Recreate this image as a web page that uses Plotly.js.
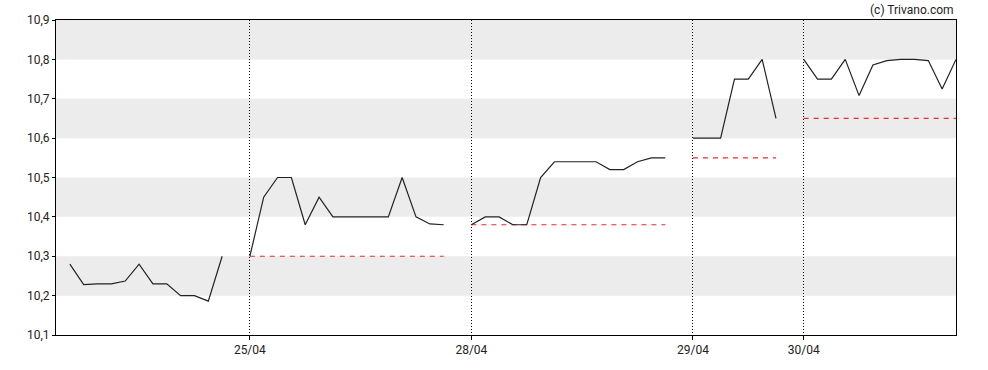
<!DOCTYPE html>
<html>
<head>
<meta charset="utf-8">
<script src="https://cdn.plot.ly/plotly-3.0.1.min.js"></script>
<style>html,body{margin:0;padding:0;background:#fff;}#chart{width:988px;height:370px;}</style>
</head>
<body>
<div id="chart"></div>
<script>
// Day labels (first day has no label on the axis)
const dayLabels = ['', '25/04', '28/04', '29/04', '30/04'];
// Intraday prices per day
const day0 = [10.28, 10.228, 10.23, 10.23, 10.237, 10.28, 10.23, 10.23, 10.20, 10.20, 10.186, 10.30];
const day1 = [10.30, 10.45, 10.50, 10.50, 10.38, 10.45, 10.40, 10.40, 10.40, 10.40, 10.40, 10.50, 10.40, 10.382, 10.38];
const day2 = [10.38, 10.40, 10.40, 10.38, 10.38, 10.50, 10.54, 10.54, 10.54, 10.54, 10.52, 10.52, 10.54, 10.55, 10.55];
const day3 = [10.60, 10.60, 10.60, 10.75, 10.75, 10.80, 10.65];
const day4 = [10.80, 10.75, 10.75, 10.80, 10.708, 10.786, 10.797, 10.80, 10.80, 10.797, 10.725, 10.80];
// Previous close reference per day
const refValues = [null, 10.30, 10.38, 10.55, 10.65];
// Y tick values and shaded bands
const yTicks = [10.1, 10.2, 10.3, 10.4, 10.5, 10.6, 10.7, 10.8, 10.9];
const yBands = [[10.2, 10.3], [10.4, 10.5], [10.6, 10.7], [10.8, 10.9]];

const days = [day0, day1, day2, day3, day4];
const xs = [], ys = [];
const dayStart = [];
const traces = [];
let idx = 0;
days.forEach((vals, d) => {
  dayStart.push(idx);
  const dx = [];
  vals.forEach(v => { xs.push(idx); ys.push(v); dx.push(idx); idx++; });
  if (refValues[d] !== null) {
    traces.push({
      x: [dx[0], dx[dx.length - 1]], y: [refValues[d], refValues[d]],
      mode: 'lines', line: {color: '#ee2a2a', width: 1.2, dash: '5px,5px'},
      hoverinfo: 'skip', showlegend: false
    });
  }
  if (d < days.length - 1) { xs.push(idx); ys.push(null); idx++; }
});
traces.push({
  x: xs, y: ys, mode: 'lines', connectgaps: false,
  line: {color: '#222', width: 1.2}, showlegend: false
});

const tickVals = [], tickText = [];
dayLabels.forEach((l, i) => { if (l) { tickVals.push(dayStart[i]); tickText.push(l); } });

const shapes = yBands.map(b => ({
  type: 'rect', xref: 'paper', yref: 'y', x0: 0, x1: 1, y0: b[0], y1: b[1],
  fillcolor: '#ececec', line: {width: 0}, layer: 'below'
}));

const layout = {
  width: 988, height: 370,
  margin: {l: 55.5, r: 32, t: 20, b: 35},
  paper_bgcolor: '#fff', plot_bgcolor: 'rgba(0,0,0,0)',
  separators: ',.',
  font: {family: 'Roboto, Arial, sans-serif', size: 12, color: '#222'},
  xaxis: {
    range: [-1, 64], tickmode: 'array', tickvals: tickVals, ticktext: tickText,
    showgrid: true, gridcolor: '#000', griddash: '1px,2px', gridwidth: 1,
    zeroline: false, showline: true, linecolor: '#000', linewidth: 1, mirror: true,
    ticks: 'outside', ticklen: 4, tickcolor: '#000'
  },
  yaxis: {
    range: [10.1, 10.9], tickmode: 'array', tickvals: yTicks,
    tickformat: '.1f', showgrid: false, zeroline: false,
    showline: true, linecolor: '#000', linewidth: 1, mirror: true,
    ticks: 'outside', ticklen: 3, tickcolor: '#000'
  },
  shapes: shapes,
  annotations: [{
    text: '(c) Trivano.com', xref: 'paper', yref: 'paper', x: 1, y: 1,
    xanchor: 'right', yanchor: 'bottom', yshift: 1, showarrow: false,
    font: {size: 12, color: '#222'}
  }]
};
Plotly.newPlot('chart', traces, layout, {displayModeBar: false, staticPlot: true});
</script>
</body>
</html>
